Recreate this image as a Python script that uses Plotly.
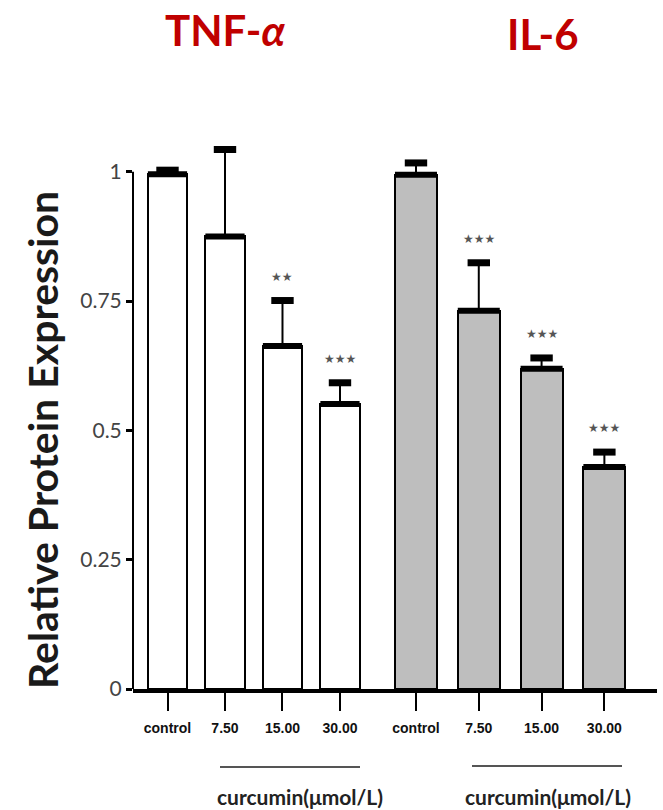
import plotly.graph_objects as go
from plotly.subplots import make_subplots

# ---- data ----
categories = ["control", "7.50", "15.00", "30.00"]
tnf_values = [0.995, 0.875, 0.663, 0.551]
tnf_errors = [0.008, 0.168, 0.088, 0.041]
tnf_stars = ["", "", "**", "***"]
il6_values = [0.994, 0.731, 0.619, 0.429]
il6_errors = [0.023, 0.093, 0.021, 0.029]
il6_stars = ["", "***", "***", "***"]
y_ticks = [0, 0.25, 0.5, 0.75, 1]
y_tick_labels = ["0", "0.25", "0.5", "0.75", "1"]

W, H = 663, 810
ML, MR, MT, MB = 133, 6, 120, 121
split = (380 - ML) / (W - ML - MR)

fig = make_subplots(rows=1, cols=2, shared_yaxes=True, horizontal_spacing=0)

panels = [
    (1, tnf_values, tnf_errors, tnf_stars, "white", 0.68, 28),
    (2, il6_values, il6_errors, il6_stars, "#BEBEBE", 0.67, 30),
]
for col, vals, errs, stars, fill, bw, bsize in panels:
    fig.add_trace(go.Bar(x=categories, y=vals, width=bw,
                         marker=dict(color=fill, line=dict(color="black", width=2)),
                         showlegend=False, hoverinfo="skip"), row=1, col=col)
    # thick bar top + error stem
    fig.add_trace(go.Scatter(x=categories, y=vals, mode="markers",
                             marker=dict(symbol="line-ew", size=bsize,
                                         line=dict(color="black", width=6)),
                             error_y=dict(type="data", array=errs, arrayminus=[0] * len(errs),
                                          symmetric=False, color="black", thickness=2, width=0),
                             cliponaxis=False, showlegend=False, hoverinfo="skip"),
                  row=1, col=col)
    tops = [v + e for v, e in zip(vals, errs)]
    fig.add_trace(go.Scatter(x=categories, y=tops, mode="markers",
                             marker=dict(symbol="line-ew", size=16,
                                         line=dict(color="black", width=7)),
                             cliponaxis=False, showlegend=False, hoverinfo="skip"),
                  row=1, col=col)
    xref = "x" if col == 1 else "x2"
    for i, (t, s) in enumerate(zip(tops, stars)):
        if s:
            fig.add_annotation(x=i, y=t, xref=xref, yref="y",
                               text=s.replace("*", "★"),
                               showarrow=False, yshift=24, xanchor="center", yanchor="middle",
                               font=dict(family="DejaVu Sans", size=12, color="#555555"))

xaxis_common = dict(
    type="category",
    showline=True, linecolor="black", linewidth=4, ticks="outside", ticklen=18,
    tickwidth=2, tickcolor="black", showgrid=False, zeroline=False,
    tickfont=dict(family="Liberation Sans Narrow, Arial Narrow, Liberation Sans, sans-serif",
                  size=14, color="#111111", weight="bold"),
    ticklabelstandoff=5, fixedrange=True,
)
fig.update_layout(
    xaxis=dict(domain=[0, split], range=[-0.6, 3.696], **xaxis_common),
    xaxis2=dict(domain=[split, 1], range=[-0.573, 3.838], **xaxis_common),
    yaxis=dict(range=[0, 1.1], tickvals=y_ticks, ticktext=y_tick_labels,
               showline=False, showgrid=False, zeroline=False, ticks="outside",
               ticklen=6, tickwidth=3, tickcolor="black",
               tickfont=dict(family="Lato, sans-serif", size=21, color="#444444")),
    width=W, height=H, margin=dict(l=ML, r=MR, t=MT, b=MB),
    paper_bgcolor="white", plot_bgcolor="white", bargap=0,
)

# y-axis line spanning 0..1
fig.add_shape(type="line", xref="x domain", yref="y", x0=0, x1=0, y0=y_ticks[0], y1=y_ticks[-1],
              line=dict(color="black", width=2))

pw = W - ML - MR
ph = H - MT - MB
def px(xp):
    return (xp - ML) / pw
def py(yp):
    return (H - MB - yp) / ph

def label(xp, yp, text, size, color, angle=0):
    fig.add_annotation(x=px(xp), y=py(yp), xref="paper", yref="paper", text=text,
                       textangle=angle, showarrow=False, xanchor="center", yanchor="middle",
                       font=dict(family="Lato, sans-serif", size=size, color=color))

# titles
label(225, 30, "<b>TNF-<i>α</i></b>", 42, "#C00000")
label(543, 34, "<b>IL-6</b>", 42, "#C00000")
# y title
label(43, 440, "<b>Relative Protein Expression</b>", 41, "#1a1a1a", angle=-90)
# group brackets
for x0, x1, yl, xc in [(220, 360, 767, 300), (472, 622, 766, 548)]:
    fig.add_shape(type="line", xref="paper", yref="paper", x0=px(x0), x1=px(x1),
                  y0=py(yl), y1=py(yl), line=dict(color="#555555", width=2))
    label(xc, 796, "<b>curcumin(μmol/L)</b>", 21, "#222222")

fig.write_html("out.html")
